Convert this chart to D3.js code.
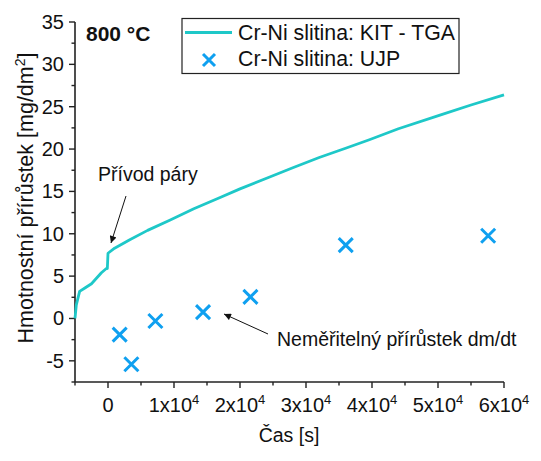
<!DOCTYPE html>
<html><head><meta charset="utf-8">
<script src="https://cdn.jsdelivr.net/npm/d3@7"></script>
<style>body{margin:0;background:#fff}svg{font-family:"Liberation Sans",Arial,sans-serif}</style>
</head><body><svg id="c" width="541" height="461"></svg>
<script>
// TGA curve (time s, mass gain mg/dm2)
const tgaTime = [-5000,-4800,-4300,-3500,-2500,-1000,-250,-100,0,1000,3300,6000,9350,13000,16900,20000,24500,28000,32000,36000,39600,44000,50300,55000,60000];
const tgaGain = [0,1.6,3.2,3.6,4.1,5.4,5.9,5.9,7.7,8.3,9.3,10.4,11.6,12.95,14.25,15.3,16.7,17.8,19.0,20.1,21.1,22.4,24.0,25.2,26.4];
// UJP measurements
const ujpTime = [1770,3540,7180,14400,21580,36020,57600];
const ujpGain = [-1.9,-5.4,-0.3,0.75,2.55,8.66,9.77];
const xMajor = [0,10000,20000,30000,40000,50000,60000];
const xMinor = [-5000,5000,15000,25000,35000,45000,55000];
const yMajor = [-5,0,5,10,15,20,25,30,35];
const yMinor = [-7.5,-2.5,2.5,7.5,12.5,17.5,22.5,27.5,32.5];
const seriesNames = ["Cr-Ni slitina: KIT - TGA","Cr-Ni slitina: UJP"];

const svg = d3.select("#c");
const x = d3.scaleLinear().domain([-5000,60000]).range([75,504]);
const y = d3.scaleLinear().domain([-7.5,35]).range([382,22]);
const lineColor = "#1ec8c8", markColor = "#0fa0f0";
const fs = 20;

// axes
const gx = svg.append("g").attr("transform","translate(0,382)");
gx.append("line").attr("x1",x(-5000)).attr("x2",x(60000)).attr("stroke","#222").attr("stroke-width",1.6);
gx.selectAll(".mj").data(xMajor).join("line").attr("x1",d=>x(d)).attr("x2",d=>x(d)).attr("y1",0).attr("y2",6).attr("stroke","#222").attr("stroke-width",1.4);
gx.selectAll(".mn").data(xMinor).join("line").attr("x1",d=>x(d)).attr("x2",d=>x(d)).attr("y1",0).attr("y2",3.5).attr("stroke","#222").attr("stroke-width",1.4);
const xl = gx.selectAll(".lb").data(xMajor).join("text").attr("x",d=>x(d)).attr("y",30).attr("text-anchor","middle").attr("font-size",fs).attr("fill","#111");
xl.each(function(d){
  const t = d3.select(this);
  if(d===0){ t.text("0"); return; }
  t.append("tspan").text((d/10000)+"x10");
  t.append("tspan").attr("dy",-8).attr("font-size",13).text("4");
});

const gy = svg.append("g").attr("transform","translate(75,0)");
gy.append("line").attr("y1",y(-7.5)).attr("y2",y(35)).attr("stroke","#222").attr("stroke-width",1.6);
gy.selectAll(".mj").data(yMajor).join("line").attr("y1",d=>y(d)).attr("y2",d=>y(d)).attr("x1",0).attr("x2",-6).attr("stroke","#222").attr("stroke-width",1.4);
gy.selectAll(".mn").data(yMinor).join("line").attr("y1",d=>y(d)).attr("y2",d=>y(d)).attr("x1",0).attr("x2",-3.5).attr("stroke","#222").attr("stroke-width",1.4);
gy.selectAll(".lb").data(yMajor).join("text").attr("x",-11).attr("y",d=>y(d)+7).attr("text-anchor","end").attr("font-size",fs).attr("fill","#111").text(d=>d);

// axis titles
svg.append("text").attr("x",289).attr("y",442).attr("text-anchor","middle").attr("font-size",19.5).attr("fill","#111").text("Čas [s]");
const yt = svg.append("text").attr("transform","translate(33,198) rotate(-90)").attr("text-anchor","middle").attr("font-size",21.5).attr("fill","#111");
yt.append("tspan").text("Hmotnostní přírůstek [mg/dm");
yt.append("tspan").attr("dy",-8).attr("font-size",14).text("2");
yt.append("tspan").attr("dy",8).text("]");

// TGA line
const pts = tgaTime.map((t,i)=>[t,tgaGain[i]]);
svg.append("path").datum(pts).attr("fill","none").attr("stroke",lineColor).attr("stroke-width",2.8).attr("stroke-linejoin","round")
  .attr("d",d3.line().x(d=>x(d[0])).y(d=>y(d[1])));

// markers
const cross = (g,cx,cy,r)=>{
  g.append("path").attr("d",`M${cx-r},${cy-r}L${cx+r},${cy+r}M${cx-r},${cy+r}L${cx+r},${cy-r}`).attr("stroke",markColor).attr("stroke-width",3).attr("fill","none");
};
const gm = svg.append("g");
ujpTime.forEach((t,i)=>cross(gm,x(t),y(ujpGain[i]),7));

// arrow marker
svg.append("defs").append("marker").attr("id","ah").attr("viewBox","0 0 10 10").attr("refX",10).attr("refY",5)
  .attr("markerWidth",10).attr("markerHeight",7).attr("markerUnits","userSpaceOnUse").attr("orient","auto")
  .append("path").attr("d","M0,0L10,5L0,10Z").attr("fill","#111");

// annotations
svg.append("text").attr("x",98).attr("y",181).attr("font-size",19.5).attr("fill","#111").text("Přívod páry");
svg.append("line").attr("x1",126).attr("y1",196).attr("x2",111).attr("y2",243).attr("stroke","#111").attr("stroke-width",1).attr("marker-end","url(#ah)");
svg.append("text").attr("x",277).attr("y",346).attr("font-size",19.5).attr("fill","#111").text("Neměřitelný přírůstek dm/dt");
svg.append("line").attr("x1",268).attr("y1",334).attr("x2",224).attr("y2",314).attr("stroke","#111").attr("stroke-width",1).attr("marker-end","url(#ah)");

svg.append("text").attr("x",86).attr("y",41).attr("font-size",21).attr("font-weight","bold").attr("fill","#111").text("800 °C");

// legend
const lg = svg.append("g");
lg.append("rect").attr("x",182).attr("y",18.5).attr("width",277).attr("height",55).attr("fill","#fff").attr("stroke","#222").attr("stroke-width",1.2);
lg.append("line").attr("x1",185).attr("x2",232).attr("y1",32.5).attr("y2",32.5).attr("stroke",lineColor).attr("stroke-width",2.8);
cross(lg,209,60,6);
lg.selectAll(".lt").data(seriesNames).join("text").attr("x",238).attr("y",(d,i)=>40+i*26).attr("font-size",21.3).attr("fill","#111").text(d=>d);
</script></body></html>
